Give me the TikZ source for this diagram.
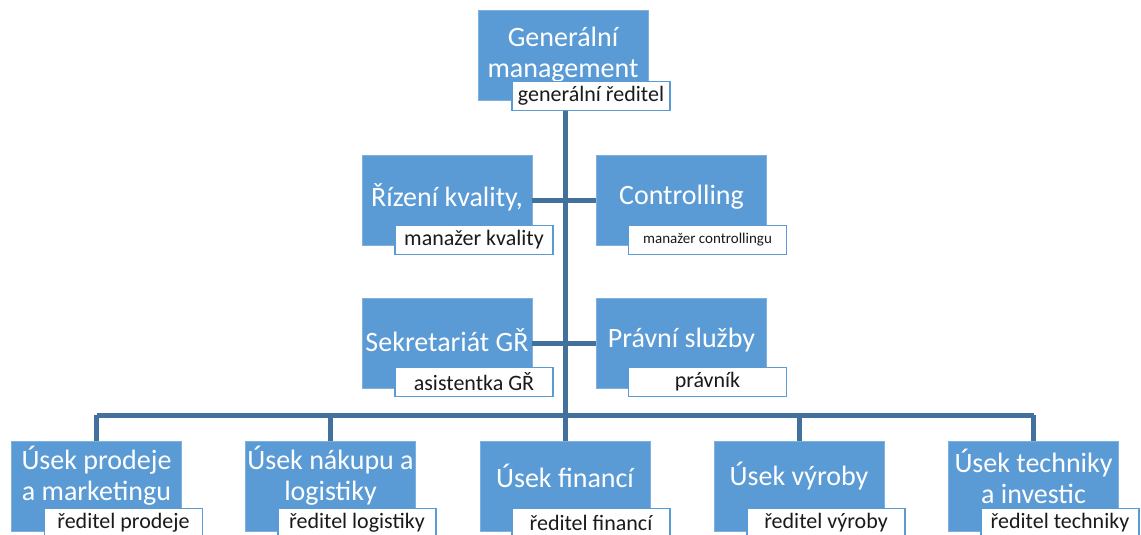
\documentclass[tikz,border=0pt]{standalone}
\usepackage{fontspec}
\setmainfont{Carlito}
\definecolor{boxblue}{HTML}{5B9BD5}
\definecolor{boxedge}{HTML}{7EB1E0}
\definecolor{linkblue}{HTML}{41719C}
\definecolor{labtext}{HTML}{1A1A1A}
\begin{document}
\begin{tikzpicture}[x=1pt,y=-1pt,
  unitbox/.style={fill=boxblue,draw=boxedge,line width=0.8pt,minimum width=170pt,minimum height=90pt,
    text=white,align=center,inner sep=0pt,font=\fontsize{28}{31}\selectfont},
  unittext/.style={text=white,align=center,inner sep=0pt,font=\fontsize{28}{31}\selectfont},
  rolebox/.style={fill=white,draw=boxblue,line width=1.2pt,minimum width=158pt,minimum height=29pt,
    text=labtext,inner sep=0pt,font=\fontsize{22}{24}\selectfont},
  link/.style={draw=linkblue,line width=5pt}]
\useasboundingbox (0,0) rectangle (1141,535);
% top
\node[unitbox] (gm) at (563,55) {Generální\\management};
\node[rolebox] (gmr) at (591,96) {generální ředitel};
% row 2
\node[unitbox] (rk) at (447,200) {};
\node[unittext] (rkt) at (447,197) {Řízení kvality,};
\node[rolebox] (rkr) at (474,240) {manažer kvality};
\node[unitbox] (co) at (681.5,200) {};
\node[unittext] (cot) at (681.5,197) {Controlling};
\node[rolebox,font=\fontsize{15}{18}\selectfont] (cor) at (707.5,240) {manažer controllingu};
% row 3
\node[unitbox] (sg) at (447,343) {};
\node[unittext] (sgt) at (447,340) {Sekretariát GŘ};
\node[unitbox] (ps) at (681.5,343) {};
\node[unittext] (pst) at (681.5,340) {Právní služby};
\node[rolebox] (sgr) at (474,382) {asistentka GŘ};
\node[rolebox] (psr) at (707.5,382) {právník};
% bottom row
\foreach \n/\x in {u1/96.5,u2/330.5,u3/565,u4/799,u5/1033.5}{\node[unitbox] (\n) at (\x,486) {};}
\node[unittext] (u1t) at (96.5,476) {Úsek prodeje\\a marketingu};
\node[unittext] (u2t) at (330.5,476) {Úsek nákupu a\\logistiky};
\node[unittext] (u3t) at (565,476) {Úsek financí};
\node[unittext] (u4t) at (799,476) {Úsek výroby};
\node[unittext] (u5t) at (1033.5,476) {Úsek techniky\\a investic};
\node[rolebox] (u1r) at (123.5,523) {ředitel prodeje};
\node[rolebox] (u2r) at (357,523) {ředitel logistiky};
\node[rolebox] (u3r) at (591,523) {ředitel financí};
\node[rolebox] (u4r) at (826,523) {ředitel výroby};
\node[rolebox] (u5r) at (1060,523) {ředitel techniky};
% connectors
\coordinate (bus) at (565,415);
\draw[link] (gmr.south -| bus) -- (bus);
\draw[link] (rk.east) -- (co.west);
\draw[link] (sg.east) -- (ps.west);
\draw[link] (u1.north |- bus) -- (u5.north |- bus);
\foreach \n in {u1,u2,u3,u4,u5}{\draw[link] (\n.north |- bus) -- (\n.north);}
\end{tikzpicture}
\end{document}
